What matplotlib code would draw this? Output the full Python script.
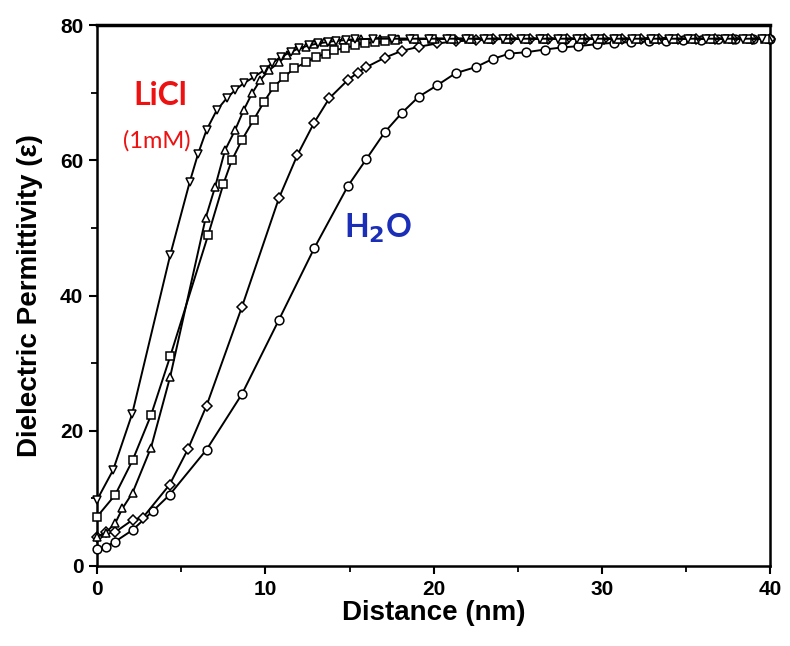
import matplotlib
matplotlib.use("Agg")
import matplotlib.pyplot as plt
from matplotlib.ticker import MultipleLocator

# ---- data ----
tri_down_x = [0.0, 0.95, 2.08, 4.34, 5.5, 6.0, 6.5, 7.1, 7.7, 8.2, 8.7, 9.3, 9.9, 10.4, 10.9,
              11.5, 12.0, 12.6, 13.1, 13.7, 14.2, 14.8, 15.3, 16.4, 17.5, 18.6, 19.7, 20.8,
              21.9, 23.0, 24.1, 25.2, 26.3, 27.4, 28.5, 29.6, 30.7, 31.8, 32.9, 34.0, 35.1,
              36.2, 37.3, 38.4, 39.5]
tri_down_y = [9.8, 14.2, 22.5, 46.0, 56.8, 61.0, 64.5, 67.4, 69.2, 70.4, 71.4, 72.3, 73.3, 74.4, 75.3,
              76.0, 76.6, 77.0, 77.3, 77.5, 77.7, 77.8, 77.9, 78.0, 78.0, 78.0, 78.0, 78.0,
              78.0, 78.0, 78.0, 78.0, 78.0, 78.0, 78.0, 78.0, 78.0, 78.0, 78.0, 78.0, 78.0,
              78.0, 78.0, 78.0, 78.0]

square_x = [0.0, 1.07, 2.1, 3.2, 4.34, 6.6, 7.5, 8.0, 8.6, 9.3, 9.9, 10.5, 11.1, 11.7, 12.4,
            13.0, 13.6, 14.1, 14.7, 15.3, 15.9, 16.5, 17.1, 17.7, 18.8, 19.9, 21.0, 22.1,
            23.2, 24.3, 25.4, 26.5, 27.6, 28.7, 29.8, 30.9, 32.0, 33.1, 34.2, 35.3, 36.4,
            37.5, 38.6, 39.7]
square_y = [7.3, 10.5, 15.6, 22.3, 31.0, 49.0, 56.5, 60.0, 63.0, 66.0, 68.6, 70.9, 72.3, 73.6, 74.5,
            75.3, 75.8, 76.3, 76.6, 77.0, 77.3, 77.5, 77.7, 77.8, 77.9, 78.0, 78.0, 78.0,
            78.0, 78.0, 78.0, 78.0, 78.0, 78.0, 78.0, 78.0, 78.0, 78.0, 78.0, 78.0, 78.0,
            78.0, 78.0, 78.0]

tri_up_x = [0.0, 0.5, 1.07, 1.5, 2.1, 3.2, 4.34, 6.45, 7.0, 7.6, 8.2, 8.7, 9.2, 9.7, 10.2,
            10.8, 11.3, 11.8, 12.4, 12.9, 13.5, 14.0, 14.6, 15.7, 16.8, 17.9, 19.0, 20.1,
            21.2, 22.3, 23.4, 24.5, 25.6, 26.7, 27.8, 28.9, 30.0, 31.1, 32.2, 33.3, 34.4,
            35.5, 36.6, 37.7, 38.8, 39.9]
tri_up_y = [4.3, 4.9, 6.3, 8.5, 10.8, 17.5, 28.0, 51.5, 56.0, 61.5, 64.5, 67.4, 69.9, 71.9, 73.3,
            74.5, 75.6, 76.3, 76.8, 77.2, 77.5, 77.7, 77.8, 77.9, 78.0, 78.0, 78.0, 78.0,
            78.0, 78.0, 78.0, 78.0, 78.0, 78.0, 78.0, 78.0, 78.0, 78.0, 78.0, 78.0, 78.0,
            78.0, 78.0, 78.0, 78.0, 78.0]

diamond_x = [0.0, 0.5, 1.07, 2.1, 2.7, 4.3, 5.4, 6.5, 8.6, 10.8, 11.9, 12.9, 13.8, 14.9, 15.5,
             16.0, 17.1, 18.1, 19.1, 20.2, 21.3, 22.5, 23.5, 24.6, 25.7, 26.8, 27.9, 29.0,
             30.1, 31.2, 32.3, 33.4, 34.5, 35.6, 36.7, 37.8, 38.9, 40.0]
diamond_y = [4.3, 5.0, 5.0, 6.8, 7.1, 12.0, 17.3, 23.7, 38.3, 54.4, 60.8, 65.6, 69.2, 71.9, 73.0,
             73.8, 75.2, 76.2, 76.8, 77.3, 77.6, 77.8, 77.9, 78.0, 78.0, 78.0, 78.0, 78.0,
             78.0, 78.0, 78.0, 78.0, 78.0, 78.0, 78.0, 78.0, 78.0, 78.0]

circle_x = [0.0, 0.5, 1.07, 2.1, 3.3, 4.3, 6.5, 8.6, 10.8, 12.9, 14.9, 16.0, 17.1, 18.1, 19.1,
            20.2, 21.3, 22.5, 23.5, 24.5, 25.5, 26.6, 27.6, 28.6, 29.7, 30.7, 31.7, 32.8,
            33.8, 34.8, 35.9, 36.9, 37.9, 39.0, 40.0]
circle_y = [2.5, 2.8, 3.6, 5.3, 8.1, 10.5, 17.2, 25.4, 36.4, 47.0, 56.2, 60.2, 64.2, 67.0, 69.4,
            71.1, 72.9, 73.8, 75.0, 75.8, 76.0, 76.4, 76.7, 76.9, 77.2, 77.4, 77.5, 77.6,
            77.7, 77.8, 77.8, 77.9, 77.9, 78.0, 78.0]

x_ticks = [0, 10, 20, 30, 40]
y_ticks = [0, 20, 40, 60, 80]

plt.rcParams['font.family'] = ['Liberation Sans', 'DejaVu Sans']

fig = plt.figure(figsize=(7.9, 6.46), dpi=100)
ax = fig.add_axes([0.123, 0.124, 0.852, 0.837])

series = [
    (circle_x, circle_y, 'o'),
    (diamond_x, diamond_y, 'D'),
    (tri_up_x, tri_up_y, '^'),
    (square_x, square_y, 's'),
    (tri_down_x, tri_down_y, 'v'),
]
for xs, ys, m in series:
    ms = 6.3 if m != 'D' else 5.4
    ax.plot(xs, ys, color='black', lw=1.4, marker=m, ms=ms, mfc='white',
            mec='black', mew=1.1, clip_on=False, zorder=3)

ax.set_xlim(0, 40)
ax.set_ylim(0, 80)
ax.set_xticks(x_ticks)
ax.set_yticks(y_ticks)
ax.xaxis.set_minor_locator(MultipleLocator(5))
ax.yaxis.set_minor_locator(MultipleLocator(10))
ax.tick_params(which='major', direction='out', length=6, width=1.5, labelsize=15, pad=4)
ax.tick_params(which='minor', direction='out', length=4, width=1.3)
for lab in ax.get_xticklabels() + ax.get_yticklabels():
    lab.set_fontweight('bold')
for s in ['left', 'bottom', 'right']:
    ax.spines[s].set_linewidth(1.8)
ax.spines['top'].set_linewidth(2.5)

ax.set_xlabel('Distance (nm)', fontsize=20, fontweight='bold', labelpad=1)
ax.set_ylabel('Dielectric Permittivity (ε)', fontsize=20, fontweight='bold', labelpad=12)

ax.text(0.094, 0.87, 'LiCl', transform=ax.transAxes, color='#ee1111', fontsize=23,
        fontweight='bold', family=['Lato', 'DejaVu Sans'], ha='center', va='center')
ax.text(0.088, 0.787, '(1mM)', transform=ax.transAxes, color='#ee1111', fontsize=17,
        family=['Lato', 'DejaVu Sans'], ha='center', va='center')
ax.text(0.418, 0.625, r'H$_\mathbf{2}$O', transform=ax.transAxes, color='#1a2eb8', fontsize=23,
        fontweight='bold', family=['Lato', 'DejaVu Sans'], ha='center', va='center')

fig.savefig('out.png', dpi=100)
